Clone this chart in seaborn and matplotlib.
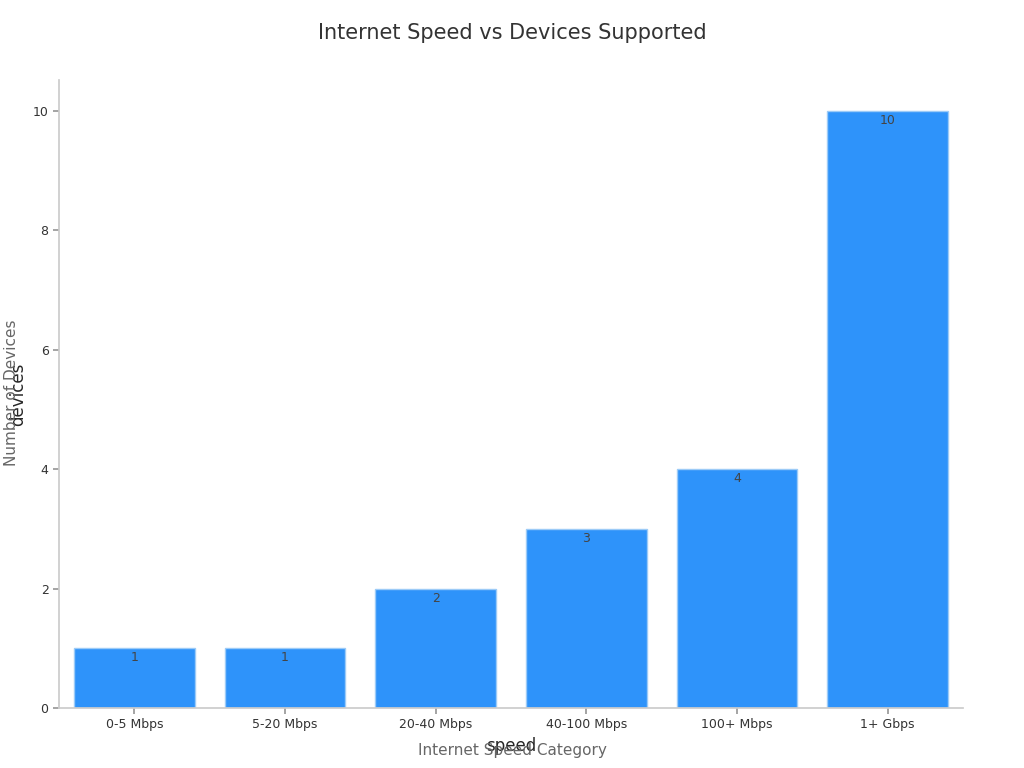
import matplotlib
matplotlib.use("Agg")
import matplotlib.pyplot as plt
import seaborn as sns
import pandas as pd

categories = ["0-5 Mbps", "5-20 Mbps", "20-40 Mbps", "40-100 Mbps", "100+ Mbps", "1+ Gbps"]
devices = [1, 1, 2, 3, 4, 10]

sns.set_theme(style="white")
plt.rcParams['font.family'] = ['DejaVu Sans']

df = pd.DataFrame({'speed': categories, 'devices': devices})

fig = plt.figure(figsize=(10.24, 7.68), dpi=100)
ax = fig.add_axes([59/1024, 60/768, 904/1024, 628/768])
sns.barplot(data=df, x='speed', y='devices', color='#2E93FA', saturation=1,
            edgecolor='#9CCBF7', linewidth=1, width=0.8, ax=ax)

for i, v in enumerate(devices):
    ax.text(i, v - 0.05, str(v), ha='center', va='top', fontsize=9, color='#444444')

ax.set_xlim(-0.5, 5.5)
ax.set_ylim(0, 10.52)
ax.set_yticks([0, 2, 4, 6, 8, 10])
ax.tick_params(axis='both', labelsize=9, colors='#333333', length=4, color='#999999', bottom=True, left=True)
sns.despine(ax=ax)
for s in ['left', 'bottom']:
    ax.spines[s].set_color('#cccccc')

fig.text(512/1024, 1 - 33/768, "Internet Speed vs Devices Supported", ha='center', va='center',
         fontsize=15, color='#333333')
fig.text(512/1024, 1 - 751/768, "Internet Speed Category", ha='center', va='center',
         fontsize=11, color='#666666')
fig.text(12/1024, 1 - 393/768, "Number of Devices", ha='center', va='center',
         rotation=90, fontsize=11, color='#666666')

fig.savefig("out.png", dpi=100)
